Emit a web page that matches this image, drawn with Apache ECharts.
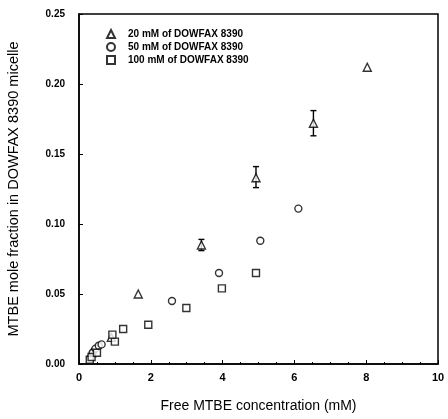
<!DOCTYPE html>
<html>
<head>
<meta charset="utf-8">
<script src="https://cdn.jsdelivr.net/npm/echarts@6/dist/echarts.min.js"></script>
<style>
  html, body { margin: 0; padding: 0; background: #fff; }
  #chart { width: 448px; height: 419px; }
</style>
</head>
<body>
<div id="chart"></div>
<script>
// data
const seriesNames = ["20 mM of DOWFAX 8390", "50 mM of DOWFAX 8390", "100 mM of DOWFAX 8390"];
const tri20 = [[0.35, 0.008], [0.9, 0.019], [1.65, 0.050], [3.41, 0.085], [4.93, 0.133], [6.53, 0.172], [8.03, 0.212]];
const circ50 = [[0.38, 0.008], [0.46, 0.011], [0.55, 0.013], [0.63, 0.014], [2.59, 0.045], [3.90, 0.065], [5.05, 0.088], [6.11, 0.111]];
const sq100 = [[0.30, 0.003], [0.35, 0.005], [0.50, 0.008], [1.00, 0.016], [0.93, 0.021], [1.23, 0.025], [1.93, 0.028], [2.99, 0.040], [3.98, 0.054], [4.93, 0.065]];
// error bars [x, low, high]
const errBars = [[3.41, 0.081, 0.089], [4.93, 0.126, 0.141], [6.53, 0.163, 0.181]];
const xTicks = [0, 2, 4, 6, 8, 10];
const yTicks = [0, 0.05, 0.10, 0.15, 0.20, 0.25];

const chart = echarts.init(document.getElementById("chart"));
const font = "Liberation Sans, Arial, sans-serif";

const markerStyle = { color: "#fff", borderColor: "#000", borderWidth: 1.4 };

const option = {
  animation: false,
  grid: {
    left: 79, right: 10, top: 14, bottom: 55, outerBoundsMode: "none",
    show: true, borderColor: "#000", borderWidth: 1.5
  },
  legend: {
    orient: "vertical",
    left: 101,
    top: 24,
    itemGap: 3,
    itemWidth: 8,
    itemHeight: 8,
    textStyle: { fontFamily: font, fontSize: 10, fontWeight: "bold", color: "#000", padding: [0, 0, 0, 8] },
    data: seriesNames
  },
  xAxis: {
    type: "value",
    min: 0,
    max: 10,
    interval: 2,
    name: "Free MTBE concentration (mM)",
    nameLocation: "middle",
    nameGap: 35,
    nameTextStyle: { fontFamily: font, fontSize: 14, color: "#000" },
    axisLine: { lineStyle: { color: "#000", width: 1.5 } },
    axisTick: { inside: true, length: 4, lineStyle: { color: "#000" } },
    minorTick: { show: true, splitNumber: 4, length: 2, lineStyle: { color: "#000" } },
    splitLine: { show: false },
    axisLabel: {
      fontFamily: font, fontSize: 11, fontWeight: "bold", color: "#000", margin: 8,
      formatter: v => xTicks.indexOf(v) >= 0 ? String(v) : ""
    }
  },
  yAxis: {
    type: "value",
    min: 0,
    max: 0.25,
    interval: 0.05,
    name: "MTBE mole fraction in DOWFAX 8390 micelle",
    nameLocation: "middle",
    nameGap: 58,
    nameTextStyle: { fontFamily: font, fontSize: 14.5, color: "#000" },
    axisLine: { lineStyle: { color: "#000", width: 1.5 } },
    axisTick: { inside: true, length: 4, lineStyle: { color: "#000" } },
    splitLine: { show: false },
    axisLabel: {
      fontFamily: font, fontSize: 10, fontWeight: "bold", color: "#000", margin: 14,
      formatter: v => yTicks.find(t => Math.abs(t - v) < 1e-9) !== undefined ? v.toFixed(2) : ""
    }
  },
  series: [
    {
      name: seriesNames[0], type: "scatter", symbol: "triangle", symbolSize: 8,
      itemStyle: markerStyle, data: tri20, z: 3
    },
    {
      name: seriesNames[1], type: "scatter", symbol: "circle", symbolSize: 7,
      itemStyle: markerStyle, data: circ50, z: 3
    },
    {
      name: seriesNames[2], type: "scatter", symbol: "rect", symbolSize: 7,
      itemStyle: markerStyle, data: sq100, z: 3
    },
    {
      type: "custom",
      data: errBars,
      z: 2,
      renderItem: function (params, api) {
        const lo = api.coord([api.value(0), api.value(1)]);
        const hi = api.coord([api.value(0), api.value(2)]);
        const w = 3;
        const st = { stroke: "#000", lineWidth: 1.4 };
        return {
          type: "group",
          children: [
            { type: "line", shape: { x1: lo[0], y1: lo[1], x2: hi[0], y2: hi[1] }, style: st },
            { type: "line", shape: { x1: lo[0] - w, y1: lo[1], x2: lo[0] + w, y2: lo[1] }, style: st },
            { type: "line", shape: { x1: hi[0] - w, y1: hi[1], x2: hi[0] + w, y2: hi[1] }, style: st }
          ]
        };
      }
    }
  ]
};
chart.setOption(option);
</script>
</body>
</html>
